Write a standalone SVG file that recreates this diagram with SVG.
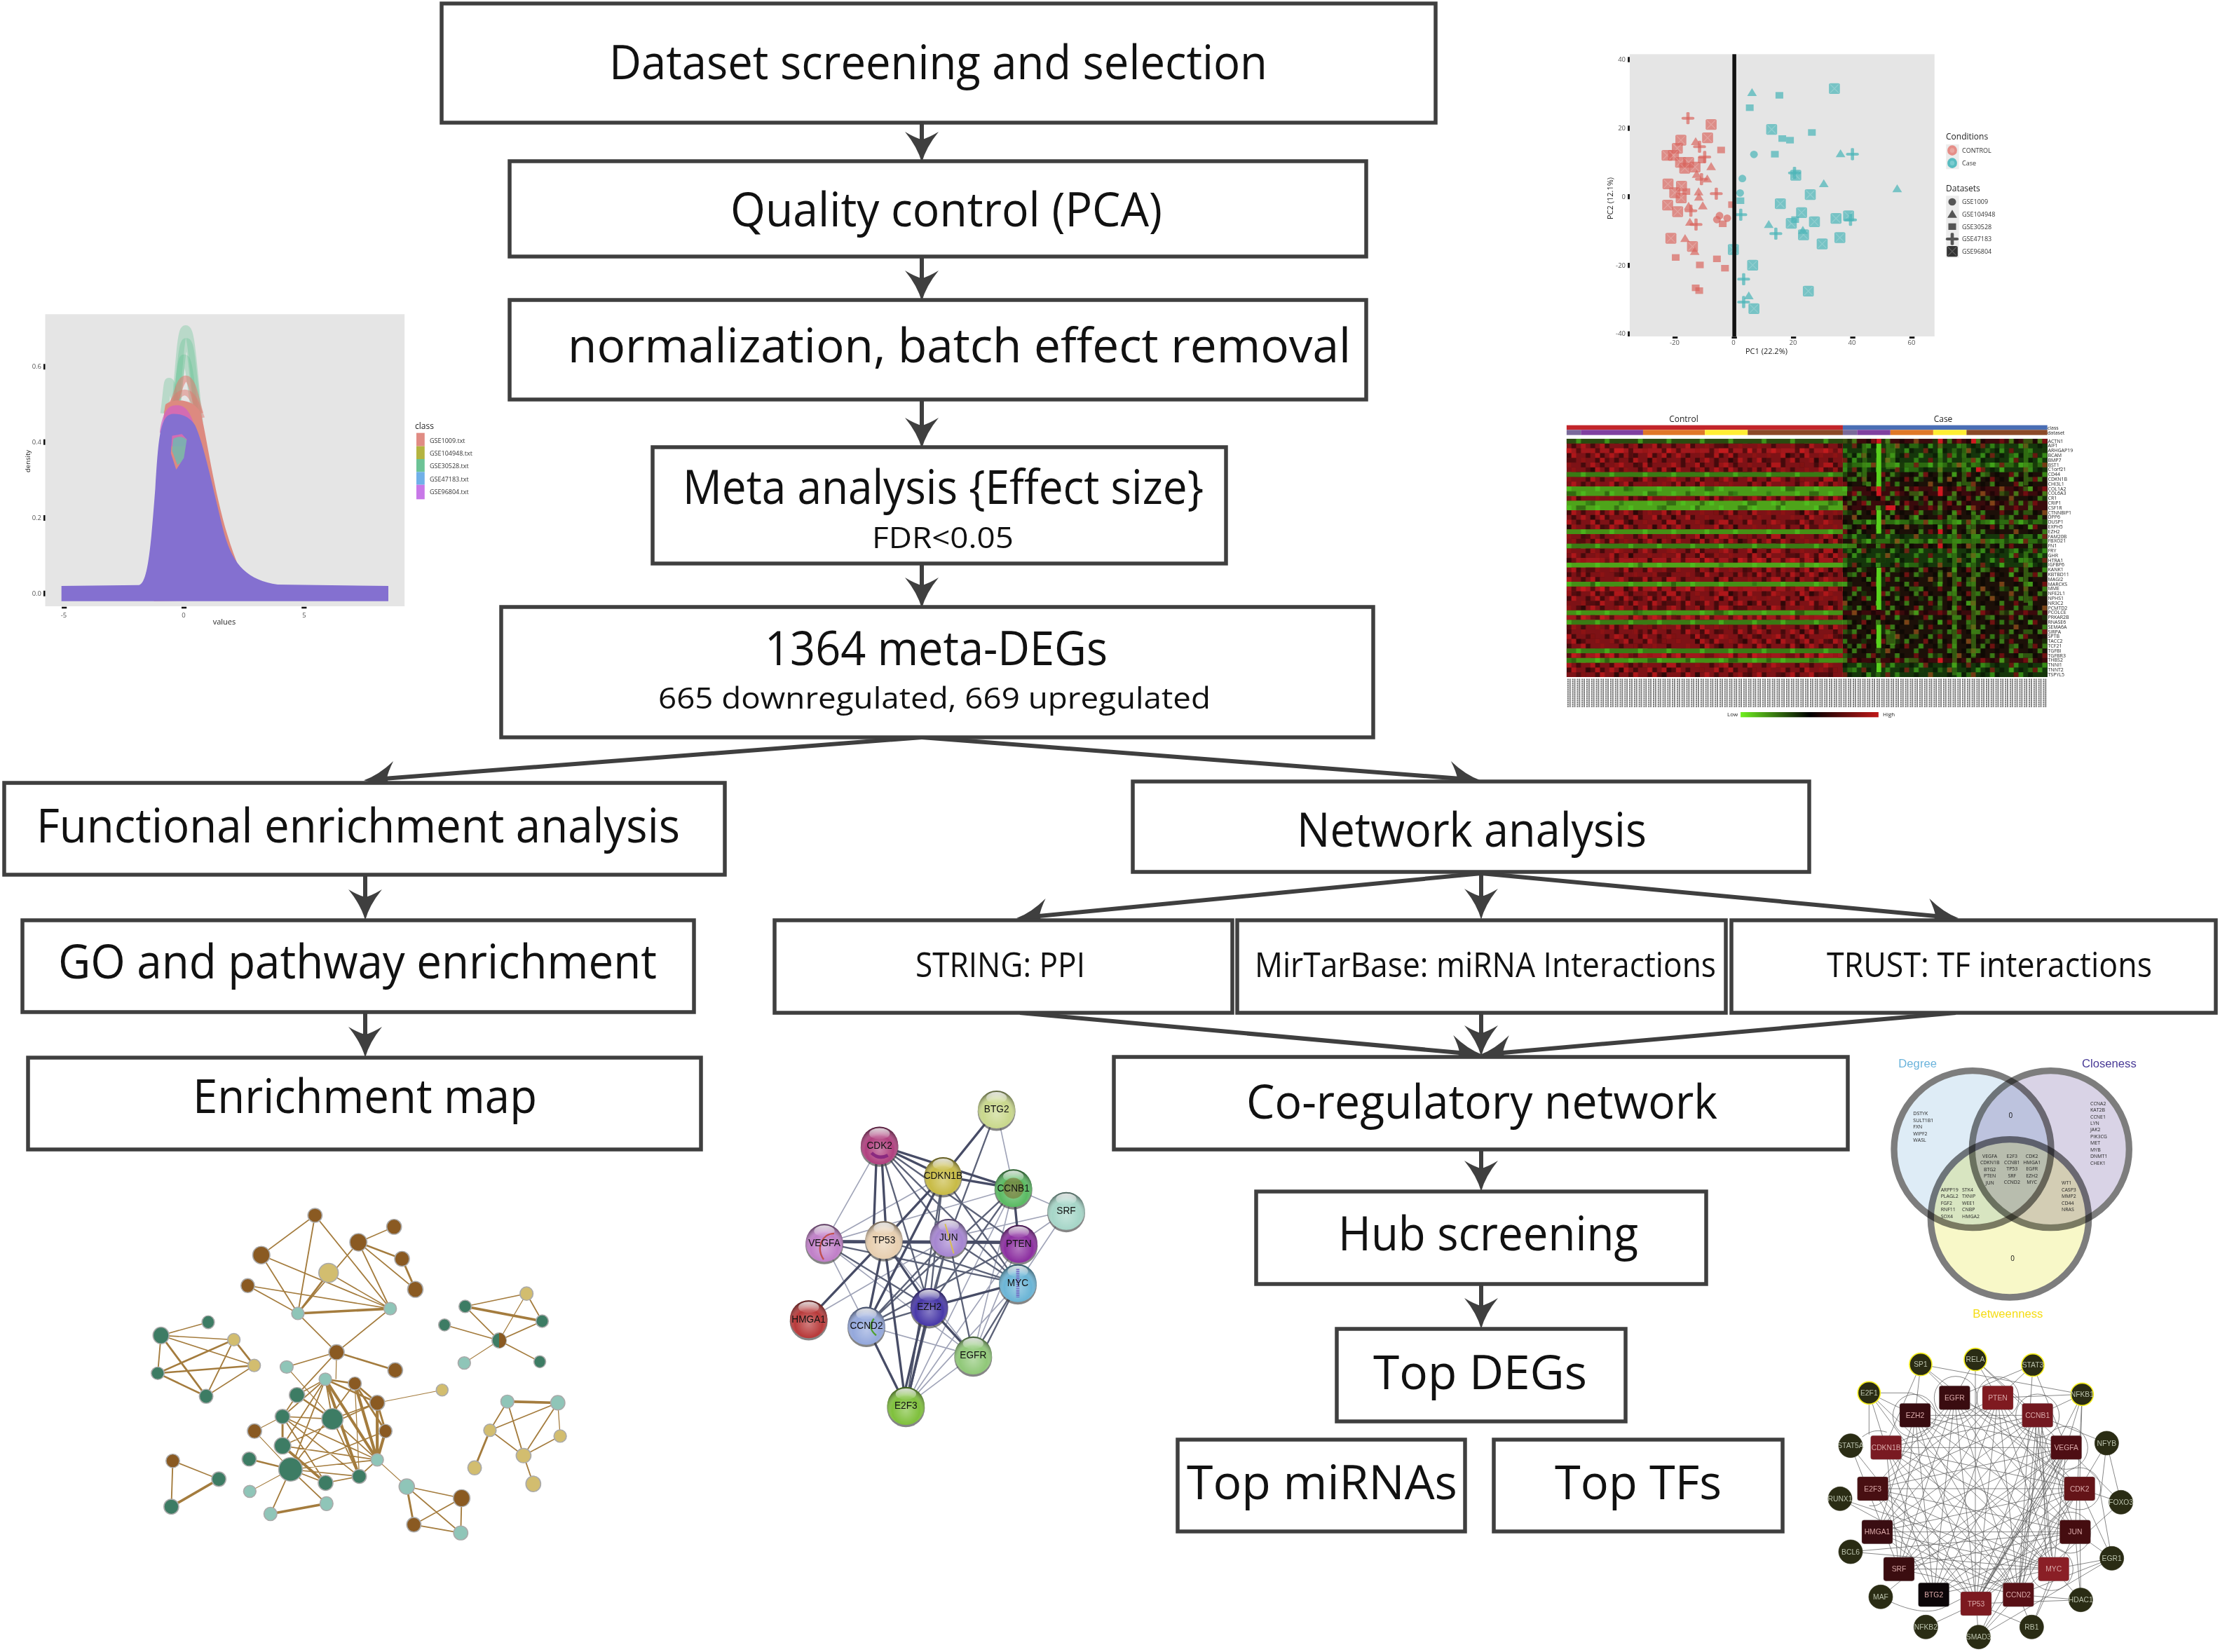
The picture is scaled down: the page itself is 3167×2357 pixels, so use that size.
<svg xmlns="http://www.w3.org/2000/svg" width="3167" height="2357" viewBox="0 0 3167 2357">
<style>
text{font-family:"Open Sans","Noto Sans","Liberation Sans",sans-serif;fill:#111}
.box{fill:#fff;stroke:#3f3f3f;stroke-width:5.5}
.cn{fill:none;stroke:#3f3f3f;stroke-width:6;marker-end:url(#ah)}
.l{font-size:67px}.m{font-size:50px}.s{font-size:42px}
.tick{font-size:9.5px;fill:#555}.lab{font-size:11px;fill:#222}.leg{font-size:9px;fill:#333}.gene{font-size:7px;fill:#222}
.bn{fill:#8a5a22}.dg{fill:#3d7c64}.tl{fill:#8fc5b8}.tn{fill:#d2bd6f}
.en ellipse{stroke:#aaa;stroke-width:4}
.ee{fill:none;stroke:#a47c3e}
.ppi text{font-family:"Liberation Sans",Arial,sans-serif;font-size:41px;text-anchor:middle;fill:#111}
.vt{font-family:"Open Sans","Liberation Sans",sans-serif;font-size:21px;fill:#222}
.tf circle{fill:#2a2c14;stroke:#2a2c14;stroke-width:2}
.tf .hub{stroke:#f5ee1e;stroke-width:5}
.tf text{font-family:"Liberation Sans",Arial,sans-serif;font-size:31px;text-anchor:middle;fill:#b9c0ab}
.tf rect{rx:10px;ry:10px;stroke:#888;stroke-width:1}
.tf .q{fill:#dba9a9}
.tfe{fill:none;stroke:#333;stroke-width:2.2;opacity:.8}
.tf .tfe circle{fill:none;stroke:#333;stroke-width:2.2}
.v{mix-blend-mode:multiply;stroke:#7d7d7d;stroke-width:28}
</style>
<defs>
<marker id="ah" markerUnits="userSpaceOnUse" markerWidth="46" markerHeight="50" viewBox="0 -25 44 50" refX="22" refY="0" orient="auto">
<path d="M44 0Q22 -6 0 -24Q9 -9 11 0Q9 9 0 24Q22 6 44 0Z" fill="#3f3f3f"/>
</marker>
<g id="sq"><rect x="-12" y="-14" width="24" height="28"/></g>
<g id="tr"><path d="M0 -18L15 16H-15Z"/></g>
<g id="ci"><ellipse rx="12" ry="16"/></g>
<g id="pl"><rect x="-20" y="-6" width="40" height="12" rx="5"/><rect x="-5" y="-26" width="10" height="52" rx="4"/></g>
<g id="bx"><rect x="-17" y="-23" width="34" height="46" rx="6"/><path d="M-13 -18L13 18M13 -18L-13 18" stroke="#fff" stroke-opacity=".2" stroke-width="3" fill="none"/></g>
<pattern id="p1" patternUnits="userSpaceOnUse" x="72" y="138" width="98" height="102"><path fill="#000" fill-opacity=".45" d="M0 0h14v20.4h-14zM42 0h14v20.4h-14zM14 20.4h14v20.4h-14zM70 20.4h14v20.4h-14zM28 40.8h14v20.4h-14zM84 40.8h14v20.4h-14zM56 61.2h14v20.4h-14zM0 61.2h14v20.4h-14zM42 81.6h14v20.4h-14zM84 81.6h14v20.4h-14z"/></pattern>
<pattern id="p2" patternUnits="userSpaceOnUse" x="72" y="138" width="154" height="61.2"><path fill="#f02020" fill-opacity=".42" d="M14 0h14v20.4h-14zM84 0h14v20.4h-14zM126 0h14v20.4h-14zM42 20.4h14v20.4h-14zM98 20.4h14v20.4h-14zM0 40.8h14v20.4h-14zM70 40.8h14v20.4h-14zM140 40.8h14v20.4h-14z"/></pattern>
<pattern id="p3" patternUnits="userSpaceOnUse" x="72" y="138" width="182" height="81.6"><path fill="#50d020" fill-opacity=".55" d="M28 0h14v20.4h-14zM112 0h14v20.4h-14zM154 20.4h14v20.4h-14zM56 20.4h14v20.4h-14zM0 40.8h14v20.4h-14zM84 40.8h14v20.4h-14zM126 61.2h14v20.4h-14zM42 61.2h14v20.4h-14z"/></pattern>
<pattern id="p4" patternUnits="userSpaceOnUse" x="72" y="138" width="126" height="102"><path fill="#b01418" fill-opacity=".55" d="M14 0h14v20.4h-14zM84 20.4h14v20.4h-14zM42 40.8h14v20.4h-14zM112 61.2h14v20.4h-14zM56 81.6h14v20.4h-14z"/></pattern>
<pattern id="p5" patternUnits="userSpaceOnUse" x="72" y="138" width="238" height="142.8"><path fill="#000" fill-opacity=".32" d="M28 0h28v20.4h-28zM140 0h14v20.4h-14zM196 20.4h28v20.4h-28zM70 40.8h14v20.4h-14zM168 61.2h28v20.4h-28zM0 81.6h28v20.4h-28zM112 81.6h14v20.4h-14zM210 102h14v20.4h-14zM56 122.4h28v20.4h-28zM154 122.4h14v20.4h-14z"/></pattern>
<pattern id="p6" patternUnits="userSpaceOnUse" x="72" y="138" width="266" height="102"><path fill="#3a8c14" fill-opacity=".55" d="M14 0h28v20.4h-28zM126 0h14v20.4h-14zM210 20.4h28v20.4h-28zM70 40.8h14v20.4h-14zM168 40.8h14v20.4h-14zM28 61.2h14v20.4h-14zM238 61.2h14v20.4h-14zM112 81.6h28v20.4h-28z"/></pattern>
<pattern id="gsm" patternUnits="userSpaceOnUse" x="72" y="1165" width="14" height="9"><path d="M4 0v7M10 1v7" stroke="#3c3c3c" stroke-width="3" fill="none"/></pattern>
<linearGradient id="cb"><stop offset="0" stop-color="#70f020"/><stop offset=".5" stop-color="#000"/><stop offset="1" stop-color="#c01818"/></linearGradient>
<radialGradient id="shade" cx=".5" cy=".62" r=".6"><stop offset="0" stop-color="#fff" stop-opacity=".34"/><stop offset=".62" stop-color="#fff" stop-opacity="0"/><stop offset="1" stop-color="#000" stop-opacity=".52"/></radialGradient>
<linearGradient id="gl" x1="0" y1="0" x2="0" y2="1"><stop offset="0" stop-color="#fff" stop-opacity=".8"/><stop offset="1" stop-color="#fff" stop-opacity=".05"/></linearGradient>
<g id="bs"><circle cy="9" r="81" fill="#444" opacity=".65"/></g>
<g id="bf"><circle r="80" fill="url(#shade)"/><ellipse cy="-50" rx="44" ry="24" fill="url(#gl)"/></g>
</defs>
<rect width="3167" height="2357" fill="#fff"/>

<g id="connectors">
<path class="cn" d="M1315 175V210"/><path class="cn" d="M1315 366V408"/><path class="cn" d="M1315 570V618"/><path class="cn" d="M1315 804V846"/>
<path class="cn" d="M1315 1052L541 1111.5"/><path class="cn" d="M1315 1052L2090 1111.5"/>
<path class="cn" d="M521 1248V1291"/><path class="cn" d="M521 1444V1487"/>
<path class="cn" d="M2113 1246L1472 1308"/><path class="cn" d="M2113 1244V1290"/><path class="cn" d="M2113 1246L2772 1308"/>
<path class="cn" d="M1455 1445L2093 1503"/><path class="cn" d="M2113 1445V1485"/><path class="cn" d="M2790 1445L2133 1503"/>
<path class="cn" d="M2113 1640V1678"/><path class="cn" d="M2113 1832V1874"/>
</g>

<g id="n-dataset"><rect class="box" x="630" y="5" width="1418" height="170"/><text class="l" x="869" y="113" textLength="939" lengthAdjust="spacingAndGlyphs">Dataset screening and selection</text></g>
<g id="n-qc"><rect class="box" x="727" y="230" width="1222" height="136"/><text class="l" x="1042" y="323" textLength="616" lengthAdjust="spacingAndGlyphs">Quality control (PCA)</text></g>
<g id="n-norm"><rect class="box" x="727" y="428" width="1222" height="142"/><text class="l" x="810" y="517" textLength="1117" lengthAdjust="spacingAndGlyphs">normalization, batch effect removal</text></g>
<g id="n-meta"><rect class="box" x="931" y="638" width="818" height="166"/><text class="l" x="974" y="719" textLength="743" lengthAdjust="spacingAndGlyphs">Meta analysis {Effect size}</text><text class="s" x="1244" y="782" textLength="202" lengthAdjust="spacingAndGlyphs">FDR&lt;0.05</text></g>
<g id="n-degs"><rect class="box" x="715" y="866" width="1244" height="186"/><text class="l" x="1091" y="949" textLength="489" lengthAdjust="spacingAndGlyphs">1364 meta-DEGs</text><text class="s" x="939" y="1011" textLength="788" lengthAdjust="spacingAndGlyphs">665 downregulated, 669 upregulated</text></g>
<g id="n-func"><rect class="box" x="6" y="1117" width="1028" height="131"/><text class="l" x="52" y="1202" textLength="918" lengthAdjust="spacingAndGlyphs">Functional enrichment analysis</text></g>
<g id="n-net"><rect class="box" x="1616" y="1115" width="965" height="129"/><text class="l" x="1850" y="1208" textLength="499" lengthAdjust="spacingAndGlyphs">Network analysis</text></g>
<g id="n-go"><rect class="box" x="32" y="1313" width="958" height="131"/><text class="l" x="83" y="1396" textLength="854" lengthAdjust="spacingAndGlyphs">GO and pathway enrichment</text></g>
<g id="n-emap"><rect class="box" x="40" y="1509" width="960" height="131"/><text class="l" x="275" y="1588" textLength="491" lengthAdjust="spacingAndGlyphs">Enrichment map</text></g>
<g id="n-string"><rect class="box" x="1105" y="1313" width="653" height="132"/><text class="m" x="1306" y="1394" textLength="242" lengthAdjust="spacingAndGlyphs">STRING: PPI</text></g>
<g id="n-mir"><rect class="box" x="1765" y="1313" width="697" height="132"/><text class="m" x="1790" y="1394" textLength="658" lengthAdjust="spacingAndGlyphs">MirTarBase: miRNA Interactions</text></g>
<g id="n-trust"><rect class="box" x="2470" y="1313" width="691" height="132"/><text class="m" x="2606" y="1394" textLength="464" lengthAdjust="spacingAndGlyphs">TRUST: TF interactions</text></g>
<g id="n-coreg"><rect class="box" x="1589" y="1508" width="1047" height="132"/><text class="l" x="1778" y="1596" textLength="672" lengthAdjust="spacingAndGlyphs">Co-regulatory network</text></g>
<g id="n-hub"><rect class="box" x="1792" y="1700" width="642" height="132"/><text class="l" x="1909" y="1784" textLength="428" lengthAdjust="spacingAndGlyphs">Hub screening</text></g>
<g id="n-top"><rect class="box" x="1907" y="1896" width="412" height="132"/><text class="l" x="1959" y="1982" textLength="305" lengthAdjust="spacingAndGlyphs">Top DEGs</text></g>
<g id="n-mirnas"><rect class="box" x="1680" y="2054" width="410" height="131"/><text class="l" x="1693" y="2139" textLength="386" lengthAdjust="spacingAndGlyphs">Top miRNAs</text></g>
<g id="n-tfs"><rect class="box" x="2131" y="2054" width="412" height="131"/><text class="l" x="2218" y="2139" textLength="238" lengthAdjust="spacingAndGlyphs">Top TFs</text></g>

<!-- density plot -->
<g id="density">
<g transform="translate(30 430) scale(.42088 .33333)">
<rect x="82" y="55" width="1218" height="1250" fill="#e5e5e5"/>
<path d="M76 268h6v24h-6zM76 590h6v24h-6zM76 915h6v24h-6zM76 1238h6v24h-6zM138 1307h17v8h-17zM544 1307h17v8h-17zM951 1307h17v8h-17z" fill="#111"/>
<g fill="none" stroke-width="26" stroke-opacity=".32" stroke="#5cc08e">
<path d="M518 520C536 300 540 115 558 115C578 115 584 300 604 520"/>
<path d="M520 520C540 320 545 170 560 170C578 170 582 330 602 520"/>
<path d="M520 520C538 370 540 240 553 240C570 240 575 370 595 520"/>
<path d="M485 480C495 390 495 340 502 340C512 340 516 400 530 470"/>
<path d="M508 620C512 720 522 745 530 745C545 745 555 700 575 640"/>
<path d="M570 660C580 700 590 730 600 740"/>
<path stroke="#b8b840" d="M510 620C516 670 522 695 530 695C542 695 548 665 560 620"/>
<path stroke="#e07a70" stroke-opacity=".55" d="M505 480C530 400 540 330 558 330C578 330 588 400 605 480"/>
<path stroke="#e07a70" stroke-opacity=".5" d="M495 480C520 420 535 390 555 390C578 390 590 430 610 500"/>
</g>
<path d="M450 1283C480 1210 470 520 490 440C525 410 590 420 610 480C640 640 680 1080 800 1275Z" fill="#dd8a80"/>
<path d="M470 560C480 470 500 440 530 445C560 445 575 480 590 540L560 620L505 620Z" fill="#d060c8" fill-opacity=".7"/>
<path d="M515 590C530 575 555 575 565 600L555 680L530 700L512 640Z" fill="#70b8b0" fill-opacity=".85"/>
<path d="M137 1218L400 1214C430 1205 440 1050 455 800C465 600 470 490 510 482C535 478 570 490 590 530C620 610 650 800 690 1000C720 1130 770 1195 870 1212L1245 1218V1283H137ZM512 575L508 650L526 720L552 670L562 590L545 568Z" fill="#8470d0" fill-rule="evenodd"/>
<rect x="1340" y="563" width="28" height="57" fill="#e08c84"/><rect x="1340" y="620" width="28" height="55" fill="#b4b440"/><rect x="1340" y="675" width="28" height="55" fill="#6cc396"/><rect x="1340" y="730" width="28" height="55" fill="#70b0e8"/><rect x="1340" y="785" width="28" height="62" fill="#c878e8"/>
</g>
<g class="tick" text-anchor="end"><text class="tick" x="59" y="526">0.6</text><text class="tick" x="59" y="634">0.4</text><text class="tick" x="59" y="742">0.2</text><text class="tick" x="59" y="850">0.0</text></g>
<text class="tick" x="91" y="881" text-anchor="middle">-5</text><text class="tick" x="262" y="881" text-anchor="middle">0</text><text class="tick" x="434" y="881" text-anchor="middle">5</text>
<text class="lab" x="320" y="891" text-anchor="middle">values</text>
<text class="lab" transform="translate(43 658) rotate(-90)" text-anchor="middle" style="font-size:9.5px">density</text>
<text class="lab" x="592" y="612" style="font-size:12px">class</text>
<text class="leg" x="613" y="632">GSE1009.txt</text><text class="leg" x="613" y="650">GSE104948.txt</text><text class="leg" x="613" y="668">GSE30528.txt</text><text class="leg" x="613" y="687">GSE47183.txt</text><text class="leg" x="613" y="705">GSE96804.txt</text>
</g>

<!-- PCA -->
<g id="pca">
<g transform="translate(2200 50) scale(.45918 .33333)">
<rect x="272" y="82" width="947" height="1208" fill="#e5e5e5"/>
<path d="M266 94h6v22h-6zM266 388h6v22h-6zM266 681h6v22h-6zM266 975h6v22h-6zM266 1268h6v22h-6zM405 1291h16v8h-16zM773 1291h16v8h-16zM957 1291h16v8h-16zM1141 1291h16v8h-16zM589 1291h16v8h-16z" fill="#111"/>
<g fill="#d9635c" fill-opacity=".68">
<use href="#bx" x="525" y="383"/><use href="#bx" x="514" y="440"/><use href="#bx" x="431" y="450"/><use href="#bx" x="420" y="485"/><use href="#bx" x="388" y="515"/><use href="#bx" x="408" y="515"/><use href="#bx" x="430" y="545"/><use href="#bx" x="455" y="545"/><use href="#bx" x="443" y="570"/><use href="#bx" x="475" y="565"/><use href="#bx" x="391" y="637"/><use href="#bx" x="433" y="647"/><use href="#bx" x="412" y="675"/><use href="#bx" x="432" y="697"/><use href="#bx" x="390" y="728"/><use href="#bx" x="421" y="756"/><use href="#bx" x="400" y="870"/><use href="#bx" x="467" y="905"/>
<use href="#tr" x="477" y="455"/><use href="#tr" x="525" y="562"/><use href="#tr" x="480" y="595"/><use href="#tr" x="513" y="615"/><use href="#tr" x="486" y="670"/><use href="#tr" x="487" y="693"/><use href="#tr" x="455" y="732"/><use href="#tr" x="499" y="730"/><use href="#tr" x="459" y="800"/><use href="#tr" x="444" y="870"/><use href="#tr" x="474" y="925"/>
<use href="#pl" x="453" y="356"/><use href="#pl" x="489" y="478"/><use href="#pl" x="505" y="522"/><use href="#pl" x="495" y="617"/><use href="#pl" x="541" y="679"/><use href="#pl" x="462" y="752"/><use href="#pl" x="478" y="811"/>
<use href="#sq" x="556" y="492"/><use href="#sq" x="496" y="535"/><use href="#sq" x="448" y="670"/><use href="#sq" x="590" y="726"/><use href="#sq" x="561" y="808"/><use href="#sq" x="415" y="952"/><use href="#sq" x="490" y="984"/><use href="#sq" x="543" y="958"/><use href="#sq" x="568" y="998"/><use href="#sq" x="477" y="1082"/><use href="#sq" x="488" y="1094"/>
<use href="#ci" x="551" y="773"/><use href="#ci" x="575" y="784"/><use href="#ci" x="543" y="790"/>
</g>
<g fill="#4cb5b8" fill-opacity=".72">
<use href="#bx" x="908" y="229"/><use href="#bx" x="713" y="404"/><use href="#bx" x="788" y="600"/><use href="#bx" x="833" y="683"/><use href="#bx" x="740" y="722"/><use href="#bx" x="806" y="760"/><use href="#bx" x="846" y="799"/><use href="#bx" x="774" y="806"/><use href="#bx" x="913" y="785"/><use href="#bx" x="952" y="774"/><use href="#bx" x="925" y="867"/><use href="#bx" x="812" y="855"/><use href="#bx" x="870" y="894"/><use href="#bx" x="594" y="918"/><use href="#bx" x="654" y="985"/><use href="#bx" x="827" y="1096"/><use href="#bx" x="658" y="1171"/>
<use href="#tr" x="652" y="245"/><use href="#tr" x="927" y="507"/><use href="#tr" x="875" y="635"/><use href="#tr" x="1103" y="657"/><use href="#tr" x="704" y="810"/><use href="#tr" x="810" y="835"/><use href="#tr" x="642" y="1115"/>
<use href="#sq" x="737" y="258"/><use href="#sq" x="645" y="311"/><use href="#sq" x="838" y="417"/><use href="#sq" x="746" y="443"/><use href="#sq" x="770" y="450"/><use href="#sq" x="723" y="510"/><use href="#sq" x="616" y="709"/><use href="#sq" x="786" y="790"/>
<use href="#ci" x="658" y="511"/><use href="#ci" x="622" y="614"/><use href="#ci" x="615" y="676"/>
<use href="#pl" x="964" y="510"/><use href="#pl" x="784" y="590"/><use href="#pl" x="617" y="769"/><use href="#pl" x="958" y="791"/><use href="#pl" x="726" y="850"/><use href="#pl" x="626" y="1045"/><use href="#pl" x="626" y="1143"/>
</g>
<rect x="591" y="82" width="12" height="1208" fill="#111"/>
<rect x="1255" y="468" width="40" height="106" fill="#ececec"/>
<ellipse cx="1274" cy="494" rx="15" ry="22" fill="#e58e88"/><ellipse cx="1274" cy="494" rx="7" ry="10" fill="#eaa6a0"/>
<ellipse cx="1274" cy="548" rx="15" ry="22" fill="#58bcc0"/><ellipse cx="1274" cy="548" rx="7" ry="10" fill="#7accd0"/>
<rect x="1255" y="688" width="40" height="265" fill="#ececec"/>
<g fill="#555"><use href="#ci" x="1274" y="714"/><use href="#tr" x="1274" y="766"/><use href="#sq" x="1274" y="820"/><use href="#pl" x="1274" y="873"/></g>
<use href="#bx" x="1274" y="926" fill="#333"/>
</g>
<g class="tick" text-anchor="end"><text class="tick" x="2319" y="88">40</text><text class="tick" x="2319" y="186">20</text><text class="tick" x="2319" y="284">0</text><text class="tick" x="2319" y="382">-20</text><text class="tick" x="2319" y="479">-40</text></g>
<g text-anchor="middle"><text class="tick" x="2389" y="492">-20</text><text class="tick" x="2473" y="492">0</text><text class="tick" x="2558" y="492">20</text><text class="tick" x="2642" y="492">40</text><text class="tick" x="2727" y="492">60</text></g>
<text class="lab" x="2520" y="505" text-anchor="middle">PC1 (22.2%)</text>
<text class="lab" transform="translate(2301 283) rotate(-90)" text-anchor="middle">PC2 (12.1%)</text>
<text class="lab" x="2776" y="199" style="font-size:12px">Conditions</text>
<text class="leg" x="2799" y="218">CONTROL</text><text class="leg" x="2799" y="236">Case</text>
<text class="lab" x="2776" y="273" style="font-size:12px">Datasets</text>
<text class="leg" x="2799" y="291">GSE1009</text><text class="leg" x="2799" y="309">GSE104948</text><text class="leg" x="2799" y="327">GSE30528</text><text class="leg" x="2799" y="344">GSE47183</text><text class="leg" x="2799" y="362">GSE96804</text>
</g>

<!-- heatmap -->
<g id="heatmap">
<g transform="translate(2200 580) scale(.48469 .33333)">
<rect x="72" y="80" width="813" height="20" fill="#c2252a"/><rect x="885" y="80" width="602" height="20" fill="#4a6eb4"/>
<rect x="72" y="100" width="42" height="22" fill="#7a6a9a"/><rect x="114" y="100" width="183" height="22" fill="#8040a0"/><rect x="297" y="100" width="182" height="22" fill="#e07828"/><rect x="479" y="100" width="126" height="22" fill="#ffee33"/><rect x="605" y="100" width="280" height="22" fill="#8b4a28"/><rect x="885" y="100" width="42" height="22" fill="#7a6a9a"/><rect x="927" y="100" width="98" height="22" fill="#8040a0"/><rect x="1025" y="100" width="126" height="22" fill="#e07828"/><rect x="1151" y="100" width="98" height="22" fill="#ffee33"/><rect x="1249" y="100" width="238" height="22" fill="#8b4a28"/>
<rect x="72" y="138" width="813" height="1020" fill="#7e1216"/>
<rect x="885" y="138" width="602" height="1020" fill="#1c1008"/>
<g fill="#a0181c"><rect x="72" y="770.4" width="813" height="20.4"/><rect x="72" y="893" width="813" height="20.4"/><rect x="72" y="1056" width="813" height="20.4"/><rect x="72" y="648" width="813" height="20.4"/><rect x="72" y="178.8" width="813" height="20.4"/></g>
<rect x="72" y="138" width="813" height="1020" fill="url(#p1)"/>
<rect x="72" y="138" width="813" height="1020" fill="url(#p5)"/>
<rect x="72" y="138" width="813" height="1020" fill="url(#p2)"/>
<g fill="#2a4a10"><rect x="72" y="138" width="813" height="20.4"/></g>
<rect x="72" y="280.8" width="826" height="20.4" fill="#3a7a14"/>
<rect x="72" y="342" width="826" height="40.8" fill="#4a9a18"/>
<rect x="72" y="403.2" width="813" height="40.8" fill="#4ea41a"/>
<rect x="72" y="525.6" width="813" height="20.4" fill="#459016"/>
<rect x="72" y="586.8" width="854" height="20.4" fill="#3a7a14"/>
<rect x="72" y="668.4" width="813" height="20.4" fill="#4ea41a"/>
<rect x="72" y="750" width="813" height="20.4" fill="#459016"/>
<rect x="72" y="872.4" width="813" height="20.4" fill="#459016"/>
<rect x="72" y="913.2" width="813" height="20.4" fill="#3a7a14"/>
<rect x="72" y="1035.6" width="813" height="20.4" fill="#3a7a14"/>
<rect x="72" y="1076.4" width="813" height="20.4" fill="#459016"/>
<g fill="url(#p3)"><rect x="72" y="138" width="813" height="20.4"/><rect x="72" y="280.8" width="813" height="20.4"/><rect x="72" y="342" width="813" height="40.8"/><rect x="72" y="403.2" width="813" height="40.8"/><rect x="72" y="525.6" width="813" height="20.4"/><rect x="72" y="586.8" width="813" height="20.4"/><rect x="72" y="668.4" width="813" height="20.4"/><rect x="72" y="750" width="813" height="20.4"/><rect x="72" y="872.4" width="813" height="20.4"/><rect x="72" y="913.2" width="813" height="20.4"/><rect x="72" y="1035.6" width="813" height="20.4"/><rect x="72" y="1076.4" width="813" height="20.4"/></g>
<g fill="url(#p5)"><rect x="72" y="342" width="813" height="40.8"/><rect x="72" y="403.2" width="813" height="40.8"/><rect x="72" y="668.4" width="813" height="20.4"/><rect x="72" y="750" width="813" height="20.4"/><rect x="72" y="872.4" width="813" height="20.4"/><rect x="72" y="1076.4" width="813" height="20.4"/></g>
<g fill="#15360b"><rect x="885" y="158.4" width="602" height="122.4"/><rect x="885" y="546" width="602" height="20.4"/><rect x="885" y="607" width="602" height="80"/><rect x="885" y="1097" width="602" height="61"/></g>
<g fill="#2c6a10"><rect x="885" y="240" width="602" height="20.4"/><rect x="915" y="484" width="572" height="20.4"/><rect x="915" y="566.4" width="572" height="20.4"/></g>
<g fill="#3a0a0c"><rect x="898" y="342" width="589" height="40.8"/><rect x="885" y="403.2" width="602" height="40.8"/><rect x="885" y="1076.4" width="602" height="20.4"/><rect x="885" y="138" width="602" height="20.4"/><rect x="885" y="872.4" width="602" height="20.4"/></g>
<rect x="885" y="138" width="602" height="1020" fill="url(#p6)"/>
<rect x="885" y="138" width="602" height="1020" fill="url(#p1)"/>
<rect x="885" y="138" width="602" height="1020" fill="url(#p3)"/>
<rect x="885" y="138" width="602" height="1020" fill="url(#p4)"/>
<g fill="#58d01c"><rect x="984" y="158" width="14" height="186"/><rect x="984" y="444" width="14" height="100"/><rect x="984" y="690" width="14" height="180"/><rect x="984" y="934" width="14" height="100"/><rect x="984" y="1097" width="14" height="40"/></g>
<g fill="#4aa018" fill-opacity=".5"><rect x="942" y="158" width="14" height="180"/><rect x="1012" y="158" width="28" height="110"/><rect x="1165" y="158" width="14" height="170"/><rect x="1207" y="450" width="14" height="700"/><rect x="1235" y="158" width="14" height="180"/><rect x="1263" y="450" width="14" height="620"/><rect x="1417" y="158" width="14" height="180"/><rect x="1417" y="620" width="14" height="220"/><rect x="1012" y="960" width="28" height="60"/><rect x="1165" y="700" width="14" height="60"/></g>
<g fill="#d01820"><rect x="984" y="138" width="14" height="20"/><rect x="984" y="342" width="14" height="41"/><rect x="1165" y="138" width="14" height="20"/><rect x="1165" y="342" width="14" height="41"/><rect x="1165" y="586" width="14" height="21"/><rect x="1165" y="525" width="14" height="21"/><rect x="1165" y="1076" width="14" height="21"/><rect x="1263" y="138" width="14" height="20"/><rect x="1012" y="423" width="28" height="21"/><rect x="1277" y="260" width="14" height="20"/></g>
<rect x="72" y="1165" width="1415" height="122" fill="url(#gsm)"/>
<rect x="584" y="1308" width="406" height="22" fill="url(#cb)"/>
</g>
<text class="lab" x="2402" y="602" text-anchor="middle" style="font-size:12px">Control</text><text class="lab" x="2772" y="602" text-anchor="middle" style="font-size:12px">Case</text>
<text class="gene" x="2921" y="613">class</text><text class="gene" x="2921" y="620">dataset</text>
<text class="gene" x="2464" y="1022" style="font-size:8px">Low</text><text class="gene" x="2686" y="1022" style="font-size:8px">High</text>
<g transform="translate(2921.5 626)">
<text class="gene" y="5.5">ACTN1</text><text class="gene" y="12.3">AIF1</text><text class="gene" y="19.1">ARHGAP19</text><text class="gene" y="25.9">BCAM</text><text class="gene" y="32.7">BMP7</text><text class="gene" y="39.5">BST1</text><text class="gene" y="46.3">C1orf21</text><text class="gene" y="53.1">CD44</text><text class="gene" y="59.9">CDKN1B</text><text class="gene" y="66.7">CHI3L1</text><text class="gene" y="73.5">COL1A2</text><text class="gene" y="80.3">COL6A3</text><text class="gene" y="87.1">CR1</text><text class="gene" y="93.9">CRIP1</text><text class="gene" y="100.7">CSF1R</text><text class="gene" y="107.5">CTNNBIP1</text><text class="gene" y="114.3">DPP6</text><text class="gene" y="121.1">DUSP1</text><text class="gene" y="127.9">EXPH5</text><text class="gene" y="134.7">EZH2</text><text class="gene" y="141.5">FAM20B</text><text class="gene" y="148.3">FBXO21</text><text class="gene" y="155.1">FN1</text><text class="gene" y="161.9">FRY</text><text class="gene" y="168.7">GHR</text><text class="gene" y="175.5">HTRA1</text><text class="gene" y="182.3">IGFBP6</text><text class="gene" y="189.1">KANK1</text><text class="gene" y="195.9">KBTBD11</text><text class="gene" y="202.7">MAGI2</text><text class="gene" y="209.5">MARCKS</text><text class="gene" y="216.3">MME</text><text class="gene" y="223.1">NFE2L1</text><text class="gene" y="229.9">NPHS1</text><text class="gene" y="236.7">NR3C2</text><text class="gene" y="243.5">PCMTD2</text><text class="gene" y="250.3">PCOLCE</text><text class="gene" y="257.1">PRKAR2B</text><text class="gene" y="263.9">RNASE6</text><text class="gene" y="270.7">SEMA6A</text><text class="gene" y="277.5">SIRPA</text><text class="gene" y="284.3">SPTB</text><text class="gene" y="291.1">TACC2</text><text class="gene" y="297.9">TCF21</text><text class="gene" y="304.7">TGFBI</text><text class="gene" y="311.5">TGFBR3</text><text class="gene" y="318.3">THBS2</text><text class="gene" y="325.1">TNNI1</text><text class="gene" y="331.9">TNNT2</text><text class="gene" y="338.7">TSPYL5</text>
</g>
</g>

<!-- enrichment map -->
<g id="enrichment" transform="translate(180 1680) scale(.42088 .35714)">
<path class="ee" stroke-width="3" d="M544 757L700 965M851 900L1071 849M851 1128L951 1235M557 1166L419 1254M435 1013L557 1166M1264 651L1146 741M1357 464L1264 651M1463 900L1471 1033M713 698L711 806M775 823L790 1194M435 1013L530 955"/>
<path class="ee" stroke-width="4.5" d="M640 151L458 310M640 151L582 543M640 151L895 524M458 310L582 543M458 310L895 524M787 259L908 197M787 259L980 447M787 259L895 524M787 259L582 543M686 381L895 524M412 432L582 543M412 432L895 524M582 543L713 698M895 524L713 698M713 698L544 757M713 698L579 869M675 806L579 869M675 806L530 955M675 806L530 1072M675 806L557 1166M775 823L557 1166M851 900L699 965M699 965L851 1128M699 965L790 1194M530 955L699 965M530 955L851 1128M530 955L790 1194M530 955L676 1220M579 869L530 955M530 1072L851 1128M557 1166L790 1194M557 1166L851 1128M557 1166L676 1220M557 1166L679 1303M557 1166L489 1344M790 1194L676 1220M851 1128L790 1194M879 1013L557 1166M851 900L530 1072M951 1235L1137 1281M951 1235L1134 1420M1137 1281L975 1387M1137 1281L1134 1420M975 1387L1134 1420M278 578L118 631M118 631L365 648M118 631L434 751M118 631L107 782M365 648L271 874M434 751L271 874M158 1132L314 1205M158 1132L153 1315M1357 464L1149 515M1357 464L1410 574M1149 515L1264 651M1410 574L1264 651M1079 589L1264 651M1264 651L1402 736M1292 895L1233 1010M1292 895L1347 1111M1463 900L1233 1010M1463 900L1347 1111M1233 1010L1347 1111M1471 1033L1347 1111M1347 1111L1380 1224M699 965L675 806"/>
<path class="ee" stroke-width="7" d="M787 259L935 325M935 325L980 447M686 381L582 543M713 698L912 770M579 869L699 965M118 631L271 874M365 648L107 782M365 648L434 751M434 751L107 782M107 782L271 874M951 1235L975 1387M1233 1010L1181 1160M675 806L775 823M530 955L530 1072M417 1125L557 1166M775 823L851 900M775 823L879 1013M851 900L879 1013M675 806L851 900"/>
<path class="ee" stroke-width="10" d="M582 543L895 524M1149 515L1410 574M1292 895L1463 900M314 1205L153 1315M679 1303L489 1344M530 1072L676 1220M675 806L851 1128M675 806L790 1194M851 900L851 1128M879 1013L851 1128M775 823L851 1128"/>
<g class="en">
<ellipse class="bn" cx="640" cy="151" rx="24" ry="28"/><ellipse class="bn" cx="458" cy="310" rx="29" ry="35"/><ellipse class="bn" cx="787" cy="259" rx="29" ry="35"/><ellipse class="bn" cx="908" cy="197" rx="25" ry="30"/><ellipse class="bn" cx="935" cy="325" rx="25" ry="30"/><ellipse class="bn" cx="980" cy="447" rx="26" ry="32"/><ellipse class="tn" cx="686" cy="381" rx="33" ry="38"/><ellipse class="bn" cx="412" cy="432" rx="23" ry="28"/><ellipse class="tl" cx="582" cy="543" rx="21" ry="25"/><ellipse class="tl" cx="895" cy="524" rx="21" ry="25"/><ellipse class="bn" cx="713" cy="698" rx="26" ry="30"/><ellipse class="tl" cx="544" cy="757" rx="22" ry="25"/><ellipse class="bn" cx="912" cy="770" rx="25" ry="30"/>
<ellipse class="tl" cx="675" cy="806" rx="21" ry="25"/><ellipse class="bn" cx="775" cy="823" rx="22" ry="26"/><ellipse class="dg" cx="579" cy="869" rx="26" ry="30"/><ellipse class="bn" cx="851" cy="900" rx="25" ry="30"/><ellipse class="tn" cx="1071" cy="849" rx="20" ry="24"/><ellipse class="dg" cx="699" cy="965" rx="36" ry="42"/><ellipse class="dg" cx="530" cy="955" rx="25" ry="29"/><ellipse class="bn" cx="879" cy="1013" rx="22" ry="27"/><ellipse class="bn" cx="435" cy="1013" rx="24" ry="29"/><ellipse class="dg" cx="530" cy="1072" rx="28" ry="33"/><ellipse class="dg" cx="417" cy="1125" rx="24" ry="28"/><ellipse class="tl" cx="851" cy="1128" rx="21" ry="25"/><ellipse class="dg" cx="557" cy="1166" rx="40" ry="47"/><ellipse class="dg" cx="790" cy="1194" rx="24" ry="28"/><ellipse class="dg" cx="676" cy="1220" rx="25" ry="30"/><ellipse class="tl" cx="419" cy="1254" rx="21" ry="24"/><ellipse class="tl" cx="679" cy="1303" rx="22" ry="28"/><ellipse class="tl" cx="489" cy="1344" rx="22" ry="27"/>
<ellipse class="tl" cx="951" cy="1235" rx="26" ry="31"/><ellipse class="bn" cx="1137" cy="1281" rx="28" ry="34"/><ellipse class="bn" cx="975" cy="1387" rx="24" ry="29"/><ellipse class="tl" cx="1134" cy="1420" rx="24" ry="28"/>
<ellipse class="dg" cx="278" cy="578" rx="21" ry="26"/><ellipse class="dg" cx="118" cy="631" rx="27" ry="33"/><ellipse class="tn" cx="365" cy="648" rx="21" ry="25"/><ellipse class="tn" cx="434" cy="751" rx="21" ry="25"/><ellipse class="dg" cx="107" cy="782" rx="22" ry="25"/><ellipse class="dg" cx="271" cy="874" rx="23" ry="28"/>
<ellipse class="bn" cx="158" cy="1132" rx="23" ry="27"/><ellipse class="dg" cx="314" cy="1205" rx="24" ry="29"/><ellipse class="dg" cx="153" cy="1315" rx="25" ry="30"/>
<ellipse class="tn" cx="1357" cy="464" rx="22" ry="27"/><ellipse class="dg" cx="1149" cy="515" rx="21" ry="25"/><ellipse class="dg" cx="1410" cy="574" rx="21" ry="25"/><ellipse class="dg" cx="1079" cy="589" rx="20" ry="24"/><ellipse class="dg" cx="1264" cy="651" rx="24" ry="30"/><path class="bn" d="M1264 621A24 30 0 0 1 1264 681Z"/><ellipse class="tl" cx="1146" cy="741" rx="21" ry="25"/><ellipse class="dg" cx="1402" cy="736" rx="20" ry="24"/>
<ellipse class="tl" cx="1292" cy="895" rx="22" ry="26"/><ellipse class="tl" cx="1463" cy="900" rx="24" ry="29"/><ellipse class="tn" cx="1233" cy="1010" rx="21" ry="25"/><ellipse class="tn" cx="1471" cy="1033" rx="21" ry="25"/><ellipse class="tn" cx="1347" cy="1111" rx="25" ry="29"/><ellipse class="tn" cx="1181" cy="1160" rx="23" ry="28"/><ellipse class="tn" cx="1380" cy="1224" rx="25" ry="31"/>
</g>
</g>

<!-- PPI network -->
<g id="ppi" class="ppi" transform="translate(1100 1530) scale(.33333 .33800)">
<g fill="none" stroke-linecap="round">
<path stroke="#a0a4b8" stroke-width="5" d="M965 157L1037 489M1037 489L1263 585M1263 585L1060 724M1263 585L760 698M1263 585L1056 890M464 309L228 720M228 720L1037 489M228 720L736 438M228 720L408 1070M161 1042L736 438M161 1042L760 698M408 1070L865 1195M577 1408L865 1195M577 1408L1056 890M577 1408L1060 724M577 1408L1037 489M865 1195L1037 489M865 1195L1060 724M483 708L865 1195M228 720L865 1195"/>
<path stroke="#5c6278" stroke-width="7" d="M228 720L677 991M464 309L760 698M464 309L1060 724M464 309L1056 890M464 309L677 991M736 438L577 1408M736 438L1056 890M965 157L760 698M760 698L1056 890M483 708L1056 890M760 698L677 991M736 438L677 991M677 991L1037 489M408 1070L1037 489M408 1070L760 698M408 1070L1060 724M408 1070L677 991M577 1408L760 698M760 698L865 1195M1056 890L865 1195M1056 890L900 1195M228 720L1056 890"/>
<path stroke="#474c66" stroke-width="10" d="M464 309L736 438M736 438L1037 489M464 309L1037 489M965 157L736 438M483 708L736 438M483 708L408 1070M483 708L577 1408M483 708L677 991M677 991L1056 890M408 1070L577 1408M677 991L865 1195M161 1042L483 708M1060 724L1037 489M736 438L408 1070M450 380L440 640M475 380L490 640M660 1060L580 1400M640 1060L560 1400"/>
<path stroke="#474c66" stroke-width="14" d="M228 714L1060 718"/>
</g>
<g id="p-btg2"><use href="#bs" x="965" y="157"/><circle cx="965" cy="157" r="80" fill="#c9d88c"/><use href="#bf" x="965" y="157"/><text x="965" y="170">BTG2</text></g>
<g id="p-cdk2"><use href="#bs" x="464" y="309"/><circle cx="464" cy="309" r="80" fill="#b0407f"/><use href="#bf" x="464" y="309"/><path d="M430 340q30 30 70 10" stroke="#8a2a80" stroke-width="14" fill="none"/><text x="464" y="322">CDK2</text></g>
<g id="p-cdkn1b"><use href="#bs" x="736" y="438"/><circle cx="736" cy="438" r="80" fill="#c8bb45"/><use href="#bf" x="736" y="438"/><text x="736" y="451">CDKN1B</text></g>
<g id="p-ccnb1"><use href="#bs" x="1037" y="489"/><circle cx="1037" cy="489" r="80" fill="#5aba62"/><use href="#bf" x="1037" y="489"/><circle cx="1037" cy="489" r="44" fill="#7a6a28" opacity=".55"/><text x="1037" y="502">CCNB1</text></g>
<g id="p-srf"><use href="#bs" x="1263" y="585"/><circle cx="1263" cy="585" r="80" fill="#a6d6c8"/><use href="#bf" x="1263" y="585"/><text x="1263" y="598">SRF</text></g>
<g id="p-vegfa"><use href="#bs" x="228" y="720"/><circle cx="228" cy="720" r="80" fill="#c07fc8"/><use href="#bf" x="228" y="720"/><path d="M270 680C220 680 190 740 225 790" stroke="#c05050" stroke-width="7" fill="none"/><text x="228" y="733">VEGFA</text></g>
<g id="p-tp53"><use href="#bs" x="483" y="708"/><circle cx="483" cy="708" r="80" fill="#e8cfb0"/><use href="#bf" x="483" y="708"/><text x="483" y="721">TP53</text></g>
<g id="p-jun"><use href="#bs" x="760" y="698"/><circle cx="760" cy="698" r="80" fill="#a585d0"/><use href="#bf" x="760" y="698"/><path d="M745 640L782 765" stroke="#d8c050" stroke-width="6"/><text x="760" y="711">JUN</text></g>
<g id="p-pten"><use href="#bs" x="1060" y="724"/><circle cx="1060" cy="724" r="80" fill="#8c2fa0"/><use href="#bf" x="1060" y="724"/><text x="1060" y="737">PTEN</text></g>
<g id="p-myc"><use href="#bs" x="1056" y="890"/><circle cx="1056" cy="890" r="80" fill="#6bb5d6"/><use href="#bf" x="1056" y="890"/><path d="M1056 830V950" stroke="#7060c0" stroke-width="14" stroke-dasharray="5 4"/><text x="1056" y="903">MYC</text></g>
<g id="p-hmga1"><use href="#bs" x="161" y="1042"/><circle cx="161" cy="1042" r="80" fill="#b83a3a"/><use href="#bf" x="161" y="1042"/><text x="161" y="1055">HMGA1</text></g>
<g id="p-ccnd2"><use href="#bs" x="408" y="1070"/><circle cx="408" cy="1070" r="80" fill="#94a8dc"/><use href="#bf" x="408" y="1070"/><path d="M440 1040q-30 40 10 70" stroke="#50a030" stroke-width="7" fill="none"/><text x="408" y="1083">CCND2</text></g>
<g id="p-ezh2"><use href="#bs" x="677" y="991"/><circle cx="677" cy="991" r="80" fill="#4838a8"/><use href="#bf" x="677" y="991"/><text x="677" y="1004">EZH2</text></g>
<g id="p-egfr"><use href="#bs" x="865" y="1195"/><circle cx="865" cy="1195" r="80" fill="#90c878"/><use href="#bf" x="865" y="1195"/><text x="865" y="1208">EGFR</text></g>
<g id="p-e2f3"><use href="#bs" x="577" y="1408"/><circle cx="577" cy="1408" r="80" fill="#7fc03c"/><use href="#bf" x="577" y="1408"/><text x="577" y="1421">E2F3</text></g>
</g>

<!-- Venn -->
<g id="venn" transform="translate(2660 1480) scale(.33333)" style="isolation:isolate">
<circle class="v" cx="462" cy="479" r="336" fill="#deecf6"/>
<circle class="v" cx="796" cy="479" r="336" fill="#d9d3e6"/>
<circle class="v" cx="621" cy="775" r="338" fill="#f8f8c8"/>
<text x="145" y="128" style="font-family:'Liberation Sans',Arial,sans-serif;font-size:50px;fill:#6cb4dc">Degree</text>
<text x="930" y="128" style="font-family:'Liberation Sans',Arial,sans-serif;font-size:50px;fill:#483a96">Closeness</text>
<text x="463" y="1200" style="font-family:'Liberation Sans',Arial,sans-serif;font-size:50px;fill:#f5dc14">Betweenness</text>
<text class="vt" x="208" y="334">DSTYK</text><text class="vt" x="208" y="362">SULT1B1</text><text class="vt" x="208" y="391">FXN</text><text class="vt" x="208" y="419">WIPF2</text><text class="vt" x="208" y="447">WASL</text>
<text class="vt" x="966" y="290">CCNA2</text><text class="vt" x="966" y="318">KAT2B</text><text class="vt" x="966" y="347">CCNE1</text><text class="vt" x="966" y="375">LYN</text><text class="vt" x="966" y="403">JAK2</text><text class="vt" x="966" y="432">PIK3CG</text><text class="vt" x="966" y="460">MET</text><text class="vt" x="966" y="488">MYB</text><text class="vt" x="966" y="517">DNMT1</text><text class="vt" x="966" y="545">CHEK1</text>
<text x="625" y="344" text-anchor="middle" class="vt" style="font-size:30px;fill:#111">0</text><text x="633" y="956" text-anchor="middle" class="vt" style="font-size:30px;fill:#111">0</text>
<g text-anchor="middle"><text class="vt" x="536" y="516">VEGFA</text><text class="vt" x="536" y="544">CDKN1B</text><text class="vt" x="536" y="573">BTG2</text><text class="vt" x="536" y="601">PTEN</text><text class="vt" x="536" y="630">JUN</text>
<text class="vt" x="631" y="515">E2F3</text><text class="vt" x="631" y="543">CCNB1</text><text class="vt" x="631" y="571">TP53</text><text class="vt" x="631" y="599">SRF</text><text class="vt" x="631" y="628">CCND2</text>
<text class="vt" x="716" y="515">CDK2</text><text class="vt" x="716" y="543">HMGA1</text><text class="vt" x="716" y="571">EGFR</text><text class="vt" x="716" y="599">EZH2</text><text class="vt" x="716" y="628">MYC</text></g>
<text class="vt" x="326" y="659">ARPP19</text><text class="vt" x="326" y="688">PLAGL2</text><text class="vt" x="326" y="716">FGF2</text><text class="vt" x="326" y="744">RNF11</text><text class="vt" x="326" y="773">SOX4</text>
<text class="vt" x="417" y="660">STK4</text><text class="vt" x="417" y="688">TXNIP</text><text class="vt" x="417" y="716">WEE1</text><text class="vt" x="417" y="744">CNBP</text><text class="vt" x="417" y="773">HMGA2</text>
<text class="vt" x="843" y="630">WT1</text><text class="vt" x="843" y="659">CASP3</text><text class="vt" x="843" y="688">MMP2</text><text class="vt" x="843" y="716">CD44</text><text class="vt" x="843" y="744">NRAS</text>
</g>

<!-- TF network -->
<g id="tfnet" class="tf" transform="translate(2580 1900) scale(.33333)">
<g class="tfe">
<path d="M625 283L898 1126L456 358L1049 1016L332 496L1141 857L275 672L1160 672L294 857L1103 496L387 1016L980 358L536 1126L810 283L717 1164L625 283"/>
<path d="M625 283L1160 672L717 1164L275 672L810 283L1141 857L536 1126L332 496L980 358L1049 1016L387 1016L456 358L1103 496L898 1126L294 857L625 283"/>
<path d="M625 283L1049 1016L275 672L1103 496L536 1126L625 283M810 283L898 1126L332 496L1160 672L387 1016L810 283M980 358L717 1164L456 358L1141 857L294 857L980 358"/>
<path d="M625 283L1141 857L387 1016L625 283M810 283L1049 1016L294 857L810 283M980 358L898 1126L275 672L980 358M1103 496L717 1164L332 496L1103 496M1160 672L536 1126L456 358L1160 672"/>
<path d="M625 283L1103 496L1049 1016L536 1126L275 672L625 283M810 283L1160 672L898 1126L387 1016L332 496L810 283M980 358L1141 857L717 1164L294 857L456 358L980 358"/>
<path d="M717 1164L1060 540M717 1164L1075 540M717 1164L1090 540M760 1130L1120 720M730 1115L1110 545M898 1126L1000 410M920 1080L985 410M1040 960L970 410M1015 960L1000 400"/>
<path d="M480 140L625 283M480 140L456 358M480 140L345 450M480 140L1171 268M480 140L1160 672M714 119L625 283M714 119L810 283M714 119V1164M714 119L980 358M714 119L1103 496M960 143L810 283M960 143L625 283M960 143L1103 496M960 143L898 1126M259 262L456 358M259 262L332 496M259 262V440M259 262L1049 1016M259 262L898 1126M1171 268L810 283M1171 268L980 358M1171 268L1103 496M1171 268L1160 672M1171 268L717 1164M1171 268L1141 857M1276 477L980 358M1276 477L1337 730M1276 477L1160 672M1276 477L1250 700L1298 970M180 488L387 1016M180 488L717 1164M1337 730L1160 672M1337 730L1103 496M1337 730L898 1126M135 715L898 1126M135 715L1049 1016M180 942L1049 1016M180 942L1141 857M1298 970L1160 672M1298 970L1049 1016M1298 970L898 1126M1298 970L1141 857M309 1135L1103 496M1165 1148L1141 857M1165 1148L1049 1016M1165 1148L898 1126M1165 1148L717 1164M1165 1148L1160 672M502 1264L717 1164M955 1264L898 1126M955 1264L1049 1016M955 1264L1141 857M955 1264L717 1164M728 1307L717 1164M728 1307L1103 496M728 1307L898 1126M728 1307L1160 672M728 1307L1298 970"/>
<circle cx="453" cy="360" r="92"/><circle cx="630" cy="283" r="92"/><circle cx="810" cy="283" r="90"/><circle cx="980" cy="360" r="93"/><circle cx="1103" cy="497" r="92"/><circle cx="1160" cy="672" r="90"/><circle cx="1120" cy="860" r="88"/><circle cx="1040" cy="1016" r="92"/>
<path d="M309 1135C430 1200 520 1210 580 1180L650 1145M259 262H440C500 280 530 330 570 370M260 745C300 750 330 730 350 660M230 450C270 420 300 420 335 430"/>
</g>
<circle cx="480" cy="140" r="48" class="hub"/><circle cx="714" cy="119" r="48" class="hub"/><circle cx="960" cy="143" r="48" class="hub"/><circle cx="259" cy="262" r="48" class="hub"/><circle cx="1171" cy="268" r="48" class="hub"/>
<circle cx="1276" cy="477" r="51"/><circle cx="180" cy="488" r="51"/><circle cx="1337" cy="730" r="51"/><circle cx="135" cy="715" r="51"/><circle cx="180" cy="942" r="51"/><circle cx="1298" cy="970" r="51"/><circle cx="309" cy="1135" r="51"/><circle cx="1165" cy="1148" r="51"/><circle cx="502" cy="1264" r="51"/><circle cx="955" cy="1264" r="51"/><circle cx="728" cy="1307" r="51"/>
<text x="480" y="151">SP1</text><text x="714" y="130">RELA</text><text x="960" y="154">STAT3</text><text x="259" y="273">E2F1</text><text x="1171" y="279">NFKB1</text><text x="1276" y="488">NFYB</text><text x="180" y="499">STAT5A</text><text x="1337" y="741">FOXO3</text><text x="135" y="726">RUNX1</text><text x="180" y="953">BCL6</text><text x="1298" y="981">EGR1</text><text x="309" y="1146">MAF</text><text x="1165" y="1159">HDAC1</text><text x="502" y="1275">NFKB2</text><text x="955" y="1275">RB1</text><text x="728" y="1318">SMAD3</text>
<rect x="559" y="232" width="132" height="102" fill="#3a0c10"/><text class="q" x="625" y="294">EGFR</text>
<rect x="744" y="232" width="132" height="102" fill="#7f1a20"/><text class="q" x="810" y="294">PTEN</text>
<rect x="390" y="307" width="132" height="102" fill="#380c10"/><text class="q" x="456" y="369">EZH2</text>
<rect x="914" y="307" width="132" height="102" fill="#731820"/><text class="q" x="980" y="369">CCNB1</text>
<rect x="266" y="445" width="132" height="102" fill="#791a22"/><text class="q" x="332" y="507">CDKN1B</text>
<rect x="1037" y="445" width="132" height="102" fill="#4e0e14"/><text class="q" x="1103" y="507">VEGFA</text>
<rect x="209" y="621" width="132" height="102" fill="#480f12"/><text class="q" x="275" y="683">E2F3</text>
<rect x="1094" y="621" width="132" height="102" fill="#641418"/><text class="q" x="1160" y="683">CDK2</text>
<rect x="228" y="806" width="132" height="102" fill="#3a0d12"/><text class="q" x="294" y="868">HMGA1</text>
<rect x="1075" y="806" width="132" height="102" fill="#450d10"/><text class="q" x="1141" y="868">JUN</text>
<rect x="321" y="965" width="132" height="102" fill="#3b0d10"/><text class="q" x="387" y="1027">SRF</text>
<rect x="983" y="965" width="132" height="102" fill="#8a1f26"/><text class="q" x="1049" y="1027">MYC</text>
<rect x="470" y="1075" width="132" height="102" fill="#0c0608"/><text class="q" x="536" y="1137">BTG2</text>
<rect x="832" y="1075" width="132" height="102" fill="#581016"/><text class="q" x="898" y="1137">CCND2</text>
<rect x="651" y="1113" width="132" height="102" fill="#7c1a20"/><text class="q" x="717" y="1175">TP53</text>
</g>
</svg>
